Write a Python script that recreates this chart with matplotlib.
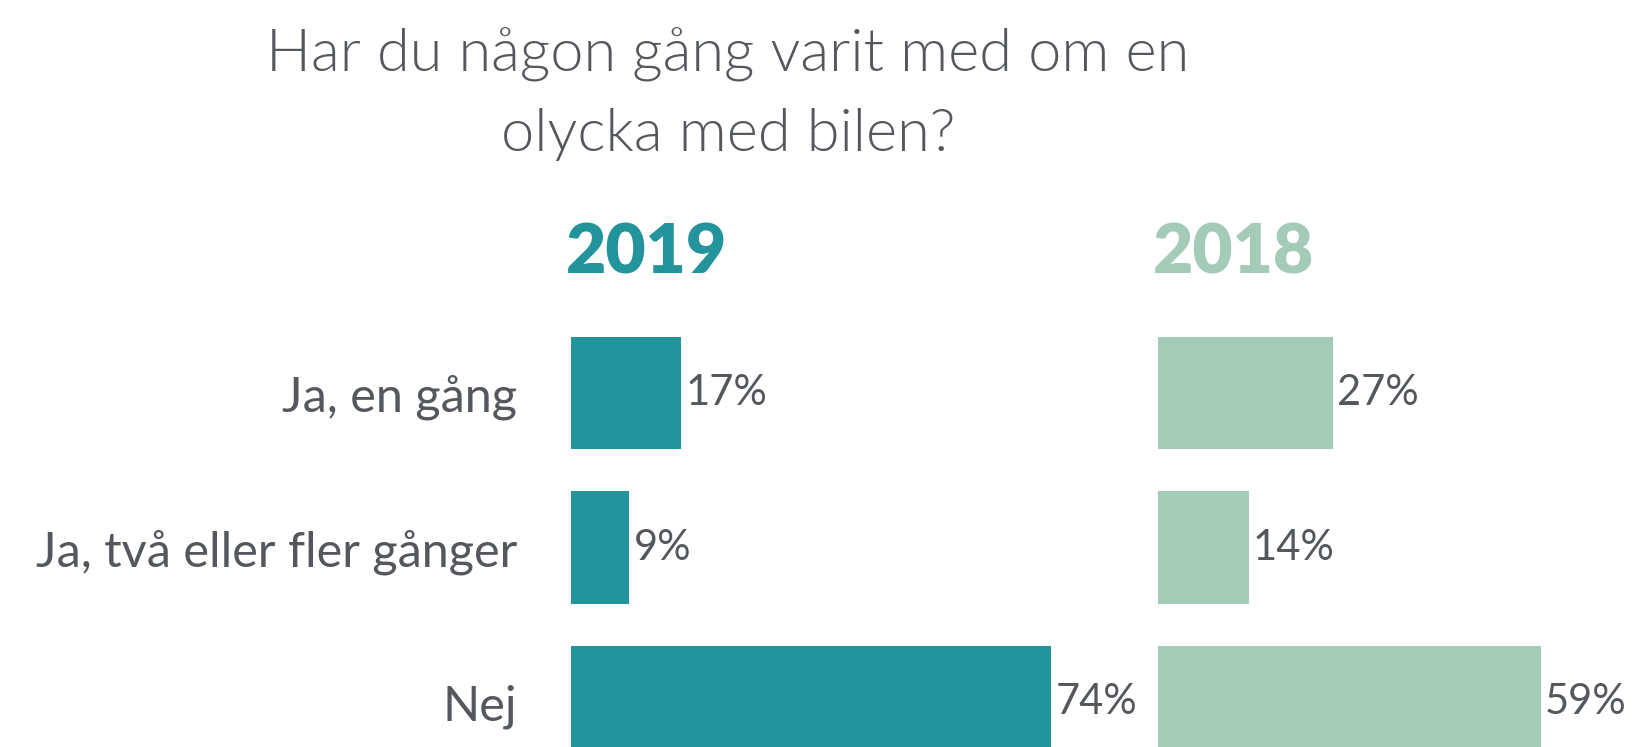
import matplotlib
matplotlib.use("Agg")
import matplotlib.pyplot as plt

# Survey answers, share of respondents in percent
categories = ['Ja, en gång', 'Ja, två eller fler gånger', 'Nej']
years = ['2019', '2018']
values_2019 = [17, 9, 74]
values_2018 = [27, 14, 59]

title_lines = ['Har du någon gång varit med om en', 'olycka med bilen?']

colors = {'2019': '#23949b', '2018': '#a4cab8'}
text_gray = '#54585c'
font = 'Lato'

W, H, DPI = 1634, 747, 100
fig = plt.figure(figsize=(W / DPI, H / DPI), dpi=DPI)

# pixel geometry of the two bar panels
px_per_pct = 6.49
pitch = 154.7
row0_center = 393
ax_top = row0_center - pitch / 2
ax_bottom = ax_top + 3 * pitch
panel_left = {'2019': 571, '2018': 1158}
panel_width = 560

for year, vals in zip(years, [values_2019, values_2018]):
    left = panel_left[year]
    ax = fig.add_axes([left / W, (H - ax_bottom) / H, panel_width / W,
                       (ax_bottom - ax_top) / H])
    ax.set_xlim(0, panel_width / px_per_pct)
    ax.set_ylim(2.5, -0.5)
    bars = ax.barh(range(len(categories)), vals, height=0.727,
                   color=colors[year])
    ax.bar_label(bars, labels=[f'{v}%' for v in vals], padding=3,
                 fontsize=30, color=text_gray, family=font)
    for s in ax.spines.values():
        s.set_visible(False)
    ax.set_xticks([])
    if year == '2019':
        ax.set_yticks(range(len(categories)))
        ax.set_yticklabels(categories, fontsize=35, color=text_gray,
                           family=font)
        ax.tick_params(axis='y', length=0, pad=39)
    else:
        ax.set_yticks([])
    # year heading above each panel
    fig.text((left - 5) / W, (H - 273) / H, year, fontsize=50,
             fontweight='heavy', color=colors[year], family=font,
             ha='left', va='baseline')

for line, base in zip(title_lines, [71, 151]):
    fig.text(728 / W, (H - base) / H, line, fontsize=42.8,
             fontweight=300, color=text_gray, family=font,
             ha='center', va='baseline')

fig.savefig('out.png', dpi=DPI, facecolor='white')
